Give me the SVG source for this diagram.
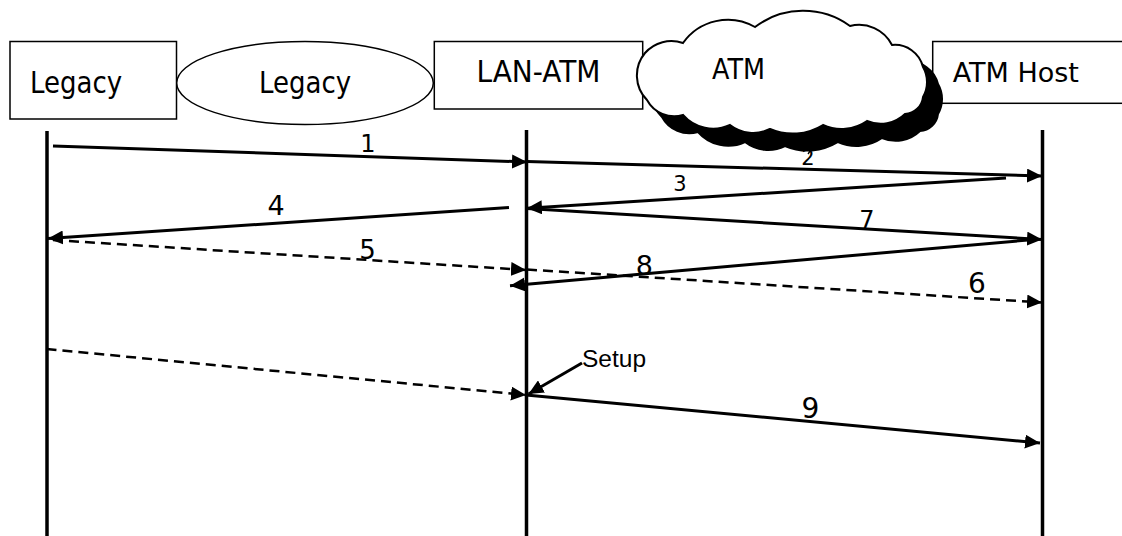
<svg xmlns="http://www.w3.org/2000/svg" xmlns:xlink="http://www.w3.org/1999/xlink" width="1122" height="536" viewBox="0 0 1122 536">
  <style>
    .box { fill: #fff; stroke: #000; stroke-width: 1.5; }
    .lbl { font-family: "DejaVu Sans", Verdana, sans-serif; fill: #000; }
    .num { font-family: "DejaVu Sans", Verdana, sans-serif; fill: #000; text-anchor: middle; }
    .life { stroke: #000; stroke-width: 3.5; fill: none; }
    .msg { stroke: #000; stroke-width: 3; fill: none; marker-end: url(#head); }
    .dash { stroke: #000; stroke-width: 2.5; fill: none; stroke-dasharray: 10 6; marker-end: url(#head); }
  </style>
  <defs>
    <marker id="head" markerUnits="userSpaceOnUse" markerWidth="16" markerHeight="14" refX="15" refY="7" orient="auto">
      <path d="M0,0 L15,7 L0,14 Z" fill="#000"/>
    </marker>
    <!-- cloud outline built from outward arcs -->
    <path id="cloudShape" d="M647,100 A35,35 0 0,1 645,53 A35,35 0 0,1 683,43 A55,55 0 0,1 755,27 A80,80 0 0,1 850,26 A37,37 0 0,1 892,45 A29,29 0 0,1 923,67 A30,30 0 0,1 923,97 A19,19 0 0,1 905,114 A35,35 0 0,1 867,121 A45,45 0 0,1 823,125 A58,58 0 0,1 770,129 A38,38 0 0,1 730,125 A40,40 0 0,1 683,115 A31,31 0 0,1 647,100 Z"/>
  </defs>

  <!-- lifelines -->
  <g id="lifelines">
    <line class="life" x1="47" y1="131" x2="47" y2="536"/>
    <line class="life" x1="526.5" y1="130" x2="526.5" y2="536"/>
    <line class="life" x1="1042.5" y1="130" x2="1042.5" y2="536"/>
  </g>

  <g id="legacy-host">
    <rect class="box" x="10" y="41.5" width="166.5" height="77.5"/>
    <text class="lbl" transform="translate(30 92.7) scale(1 1.13)" font-size="26">Legacy</text>
  </g>

  <g id="legacy-lan">
    <ellipse class="box" cx="305" cy="83" rx="128.3" ry="41.5"/>
    <text class="lbl" transform="translate(305 92.7) scale(1 1.13)" font-size="26" text-anchor="middle">Legacy</text>
  </g>

  <g id="lan-atm">
    <rect class="box" x="434.3" y="41.5" width="208.4" height="67.5"/>
    <text class="lbl" transform="translate(538.5 82.3) scale(1 1.08)" font-size="28" text-anchor="middle">LAN-ATM</text>
  </g>

  <g id="atm-host">
    <rect class="box" x="932.7" y="41.5" width="200" height="61.8"/>
    <text class="lbl" x="952.7" y="82.3" font-size="27">ATM Host</text>
  </g>

  <g id="atm-cloud">
    <use xlink:href="#cloudShape" transform="translate(15,17)" fill="#000" stroke="#000" stroke-width="2"/>
    <path d="M808,146 q4,4 0,8" fill="none" stroke="#000" stroke-width="1.5"/>
    <use xlink:href="#cloudShape" fill="#fff" stroke="#000" stroke-width="2"/>
    <text class="lbl" transform="translate(738.5 79.3) scale(1 1.08)" font-size="25.5" text-anchor="middle">ATM</text>
  </g>

  <!-- messages -->
  <g id="connectors">
    <line class="msg" x1="53" y1="146" x2="527" y2="162"/>
    <line class="msg" x1="527" y1="161.5" x2="1042" y2="176"/>
    <line class="msg" x1="1006" y1="178" x2="527" y2="208.3"/>
    <line class="msg" x1="509" y1="207.5" x2="48" y2="238.5"/>
    <line class="msg" x1="527" y1="208.5" x2="1042" y2="239.5"/>
    <line class="msg" x1="1028" y1="240" x2="510" y2="285.7"/>
    <line class="dash" x1="53" y1="240" x2="526" y2="270"/>
    <line class="dash" x1="527" y1="269.5" x2="1042" y2="302.5"/>
    <line class="dash" x1="46.5" y1="349" x2="526" y2="395"/>
    <line class="msg" x1="582" y1="363" x2="528.5" y2="394"/>
    <line class="msg" x1="526" y1="395" x2="1040" y2="443"/>
  </g>

  <g id="labels">
    <text class="num" x="368" y="151.7" font-size="24">1</text>
    <text class="num" x="808" y="165" font-size="21">2</text>
    <text class="num" x="680" y="190.7" font-size="21">3</text>
    <text class="num" x="276" y="215" font-size="27">4</text>
    <text class="num" x="367.5" y="259.3" font-size="26">5</text>
    <text class="num" x="977" y="292.7" font-size="28">6</text>
    <text class="num" x="867" y="228.3" font-size="24">7</text>
    <text class="num" x="644.3" y="275" font-size="27">8</text>
    <text class="num" x="810.5" y="418" font-size="28">9</text>
    <text x="582" y="366.7" font-family="'Liberation Sans', Arial, sans-serif" font-size="24.5">Setup</text>
  </g>
</svg>
